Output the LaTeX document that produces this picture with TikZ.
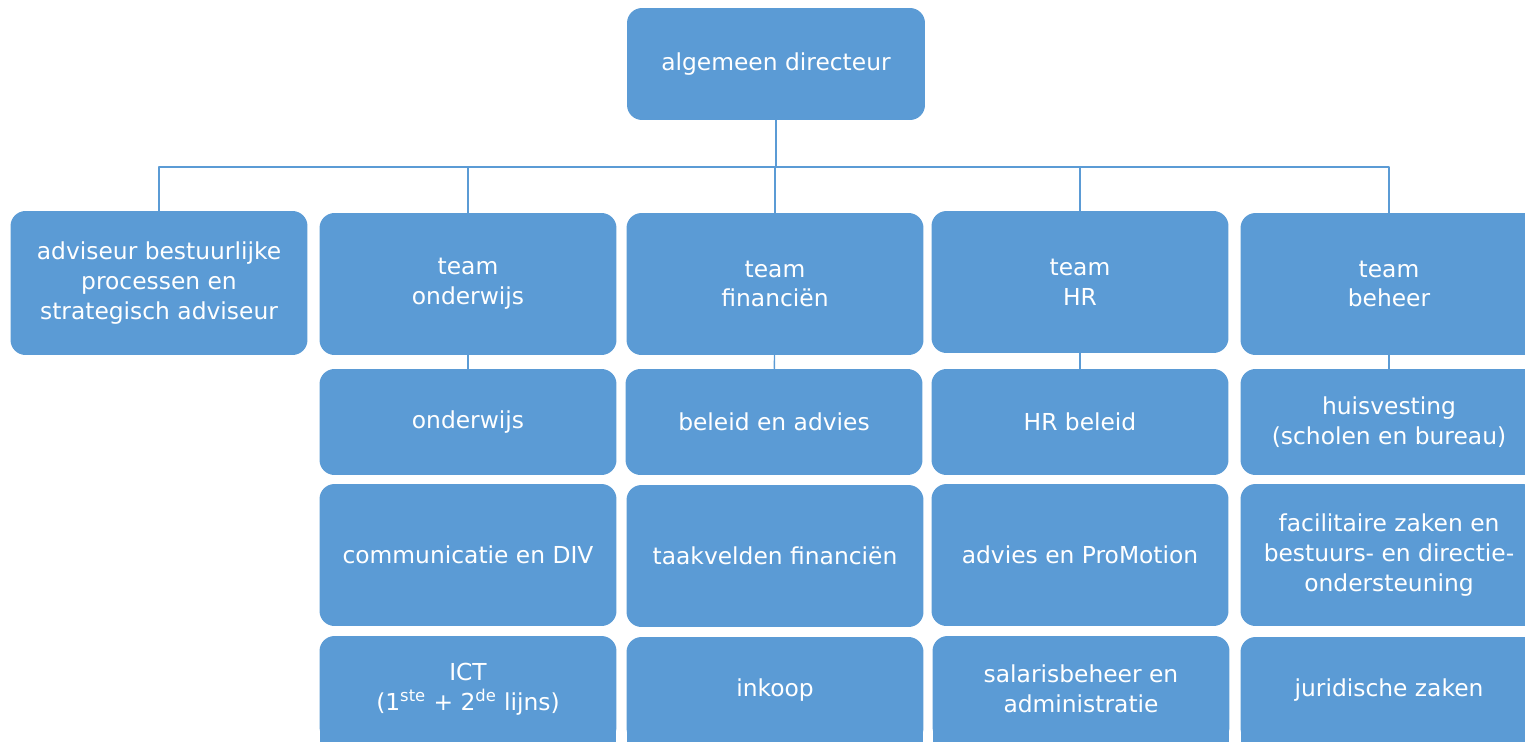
\documentclass[tikz,border=0pt]{standalone}
\usepackage{fontspec}
\setmainfont{DejaVu Sans}
\usetikzlibrary{backgrounds}
\definecolor{boxblue}{HTML}{5B9BD5}
\begin{document}
\begin{tikzpicture}[x=0.02cm, y=-0.02cm, font=\fontsize{13.3}{17}\selectfont, line join=round, line cap=round,
		box/.style={rectangle, rounded corners=0.3cm, fill=boxblue, text=white, align=center, inner sep=0pt, minimum width=5.94cm},
		hi/.style={box, minimum height=2.84cm},
		lo/.style={box, minimum height=2.12cm},
		link/.style={draw=boxblue, line width=0.8pt}]
		\useasboundingbox (0,0) rectangle (1525,741);
		\clip (0,0) rectangle (1525,741);
		
		\node[box, minimum width=5.96cm, minimum height=2.24cm] (dir) at (776,64) {algemeen directeur};
		\coordinate (bus) at (776,167);
		
		% teams
		\node[hi, minimum height=2.88cm] (adv) at (159,283) {adviseur bestuurlijke\\processen en\\strategisch adviseur};
		\node[hi] (tond) at (468,284) {team\\onderwijs};
		\node[hi] (tfin) at (775,284) {team\\financiën};
		\node[hi] (thr) at (1080,282) {team\\HR};
		\node[hi] (tbeh) at (1389,284) {team\\beheer};
		
		\node[lo] (ond) at (468,422) {onderwijs};
		\node[lo] (bel) at (774,422) {beleid en advies};
		\node[lo] (hrb) at (1080,422) {HR beleid};
		\node[lo] (huis) at (1389,422) {huisvesting\\(scholen en bureau)};
		
		\node[hi] (comm) at (468,555) {communicatie en DIV};
		\node[hi] (taak) at (775,556) {taakvelden financiën};
		\node[hi] (promo) at (1080,555) {advies en ProMotion};
		\node[hi] (fac) at (1389,555) {facilitaire zaken en\\bestuurs- en directie-\\ondersteuning};
		
		\node[lo] (ict) at (468,689) {ICT\\(1\textsuperscript{ste} + 2\textsuperscript{de} lijns)};
		\node[lo] (ink) at (775,690) {inkoop};
		\node[lo] (sal) at (1081,689) {salarisbeheer en\\administratie};
		\node[lo] (jur) at (1389,690) {juridische zaken};
		
		% bottom row runs off the page
		\begin{scope}[on background layer]
			\foreach \n in {ict, ink, sal, jur}
			\fill[boxblue] ([xshift=0.5pt, yshift=-0.5cm]\n.west) rectangle ([xshift=-0.5pt, yshift=-1cm]\n.south east);
		\end{scope}
		
		\foreach \t in {adv, tond, tfin, thr, tbeh}
		\draw[link] (dir.south) |- (bus) -| (\t.north);
		\foreach \a/\b in {tond/ond, tfin/bel, thr/hrb, tbeh/huis}
		\draw[link] (\a) -- (\b);
		
	\end{tikzpicture}
\end{document}
